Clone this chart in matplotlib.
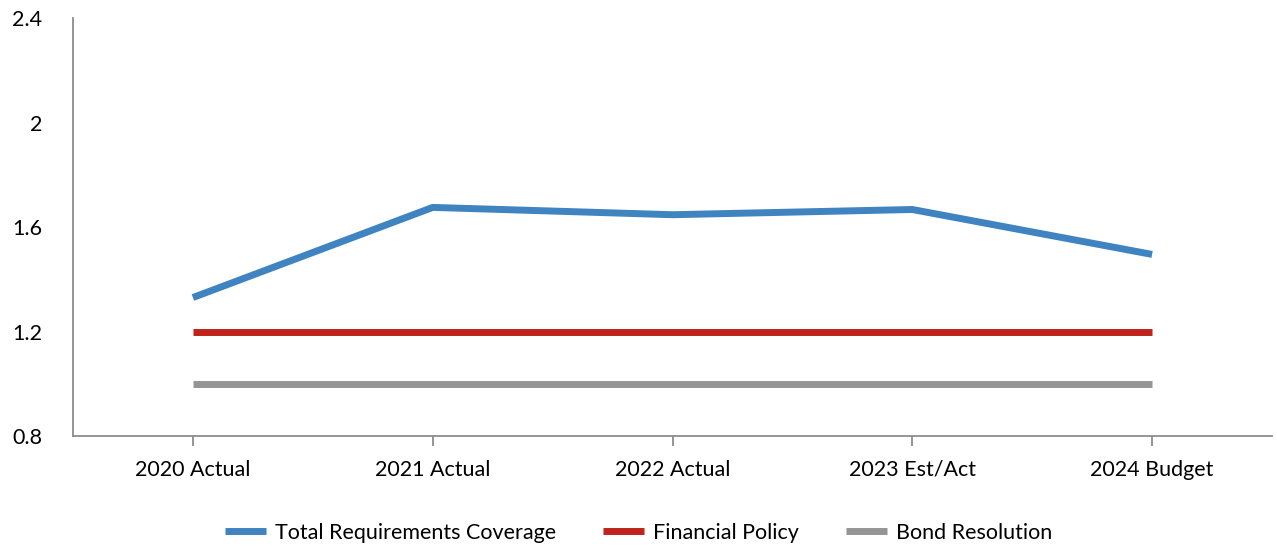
import matplotlib
matplotlib.use("Agg")
import matplotlib.pyplot as plt

categories = ["2020 Actual", "2021 Actual", "2022 Actual", "2023 Est/Act", "2024 Budget"]
total_coverage = [1.33, 1.675, 1.647, 1.667, 1.495]
financial_policy = [1.2, 1.2, 1.2, 1.2, 1.2]
bond_resolution = [1.0, 1.0, 1.0, 1.0, 1.0]
y_ticks = [0.8, 1.2, 1.6, 2.0, 2.4]
y_tick_labels = ["0.8", "1.2", "1.6", "2", "2.4"]

plt.rcParams["font.family"] = ["Lato", "DejaVu Sans"]

fig = plt.figure(figsize=(12.77, 5.46), dpi=100)
ax = fig.add_axes([73 / 1277, 110 / 546, 1199 / 1277, 418 / 546])

x = list(range(len(categories)))
ax.plot(x, total_coverage, color="#3F83C0", lw=5, solid_capstyle="butt", label="Total Requirements Coverage")
ax.plot(x, financial_policy, color="#C0231A", lw=5, solid_capstyle="butt", label="Financial Policy")
ax.plot(x, bond_resolution, color="#959595", lw=5, solid_capstyle="butt", label="Bond Resolution")

ax.set_xlim(-0.5, len(categories) - 0.5)
ax.set_ylim(0.8, 2.4)
ax.set_yticks(y_ticks)
ax.set_yticklabels(y_tick_labels)
ax.set_xticks(x)
ax.set_xticklabels(categories)

for s in ("top", "right"):
    ax.spines[s].set_visible(False)
for s in ("left", "bottom"):
    ax.spines[s].set_color("#8C8C8C")
    ax.spines[s].set_linewidth(1.3)

fs = 15.5
ax.tick_params(axis="y", length=0, pad=22, labelsize=fs, labelcolor="#000000")
ax.tick_params(axis="x", direction="out", length=7, width=1.3, color="#8C8C8C",
               pad=10, labelsize=fs, labelcolor="#000000")

fig.legend(loc="center", bbox_to_anchor=(0.5, 13 / 546), ncol=3, frameon=False,
           fontsize=fs, handlelength=1.9, handletextpad=0.4, columnspacing=2.2)

fig.savefig("out.png", dpi=100)
